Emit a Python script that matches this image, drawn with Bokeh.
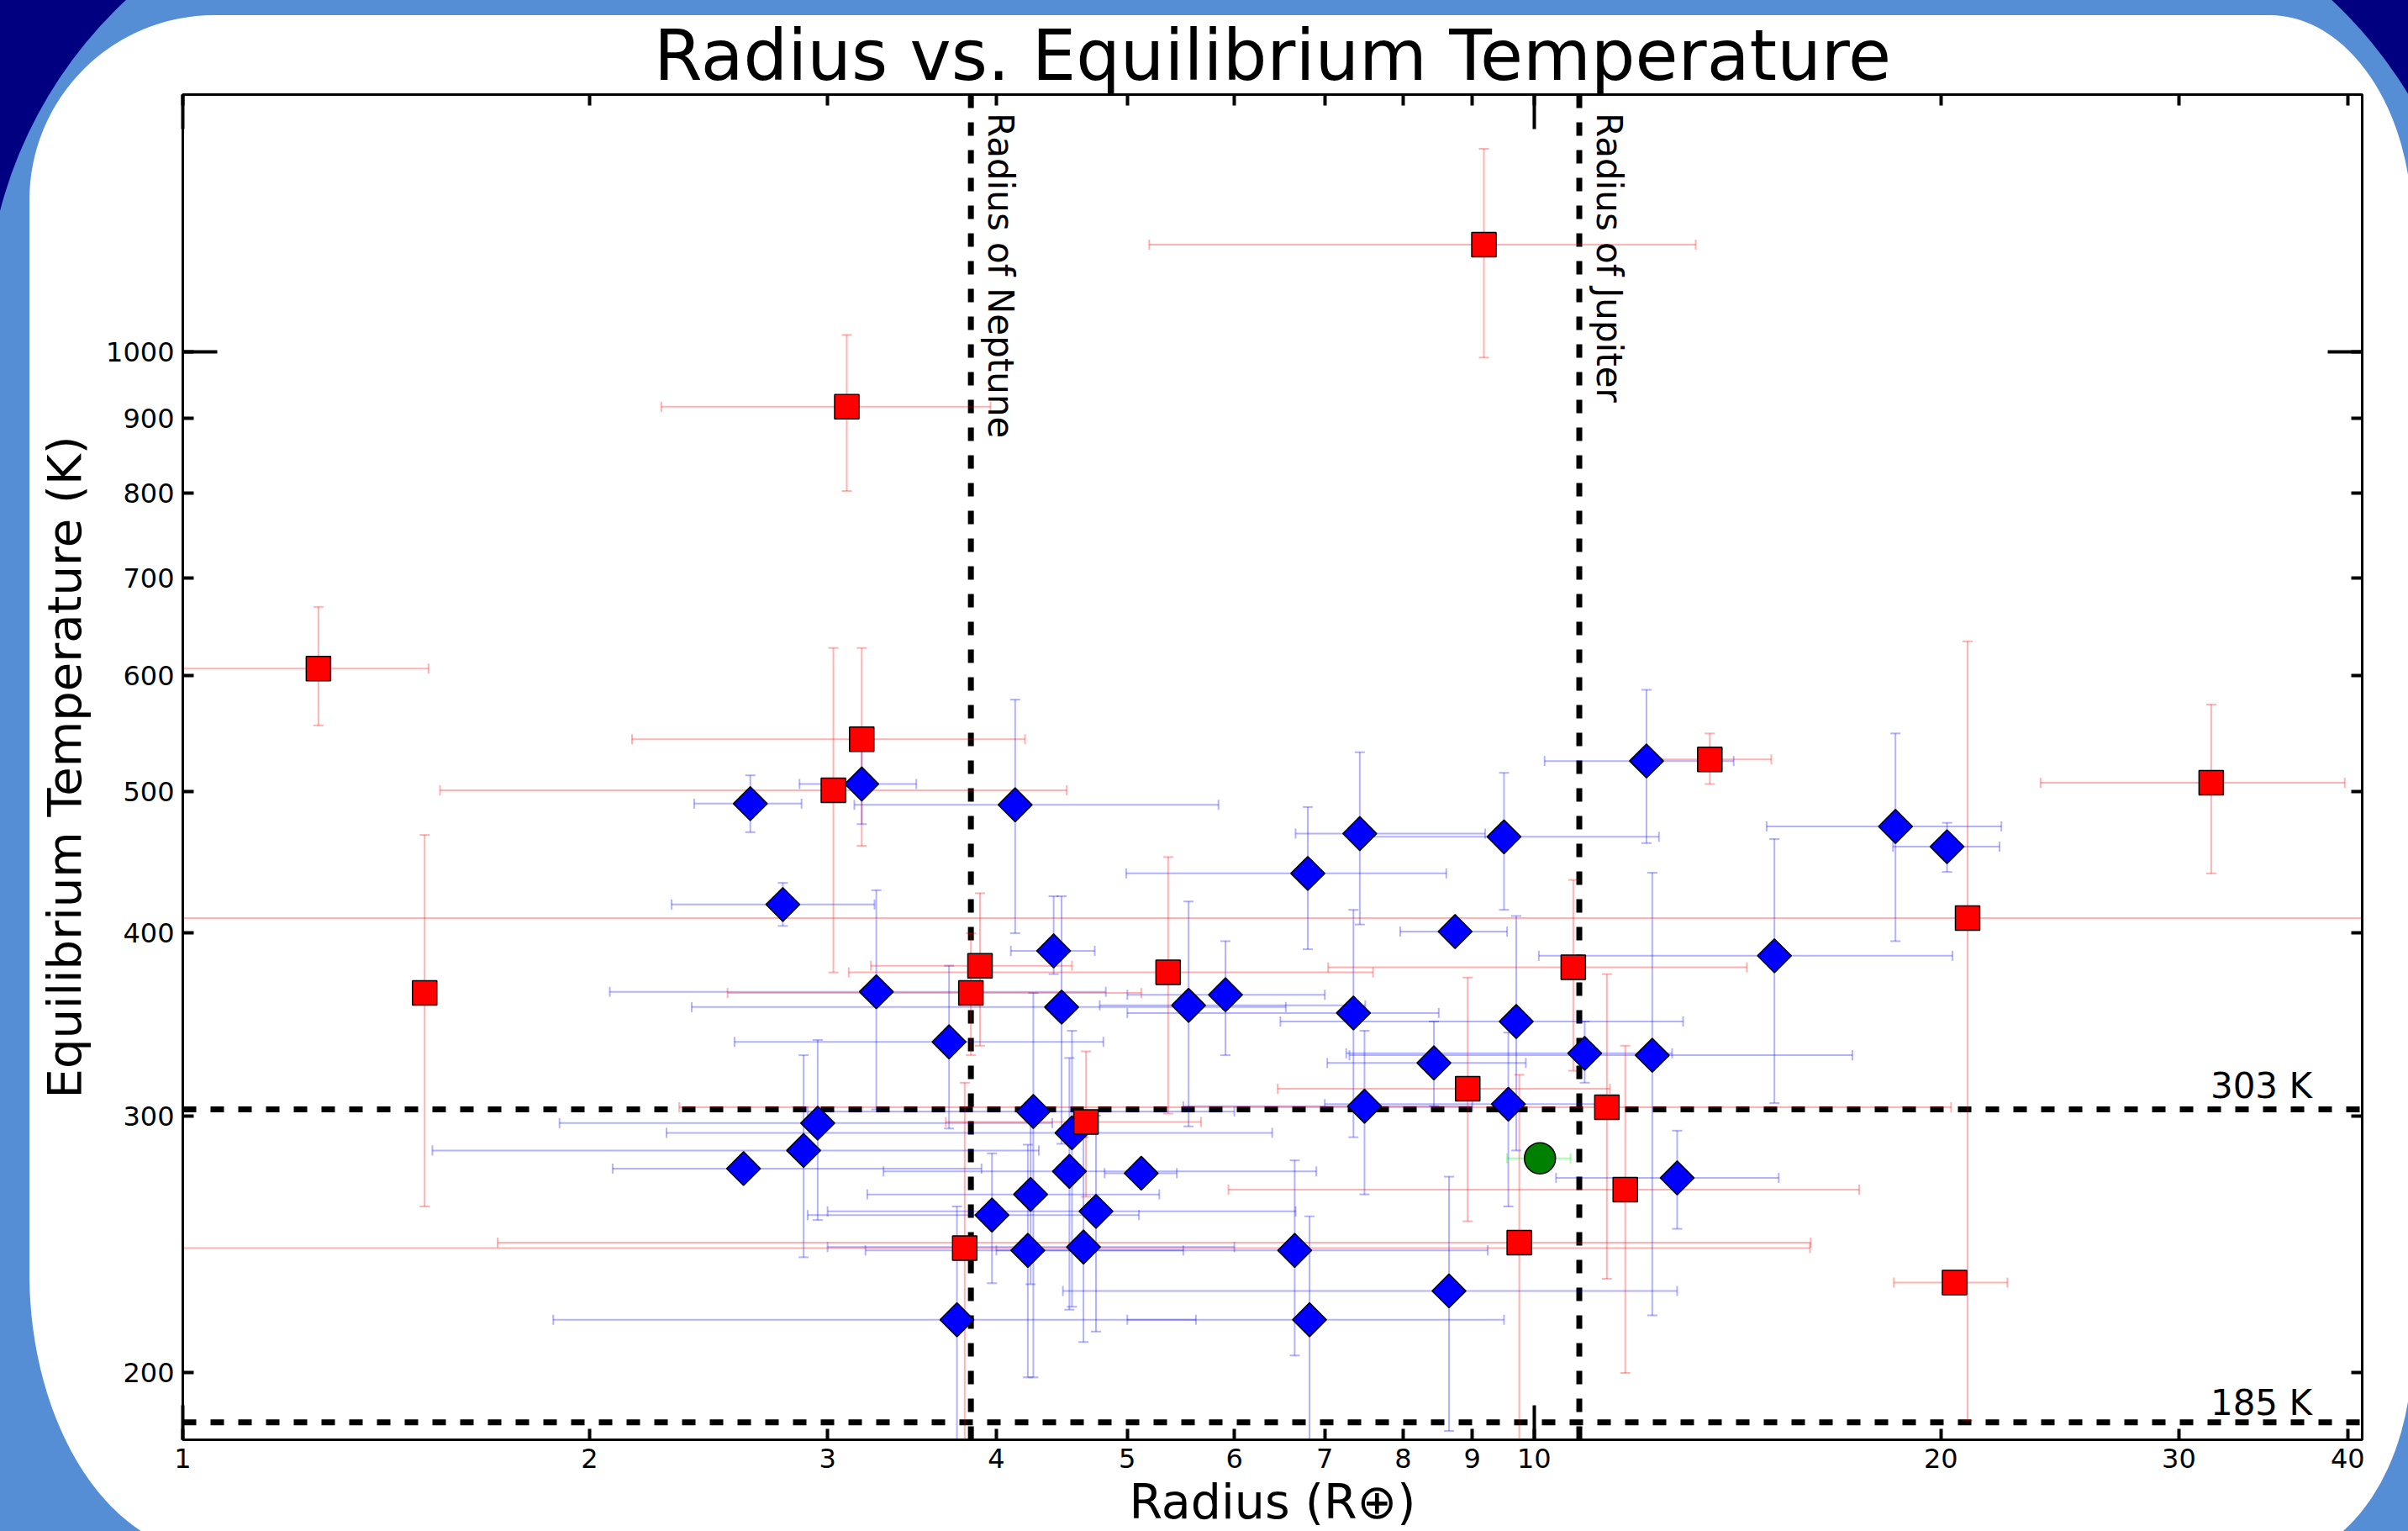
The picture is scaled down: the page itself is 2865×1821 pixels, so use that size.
import numpy as np
from urllib.parse import quote
from bokeh.plotting import figure
from bokeh.models import (FixedTicker, BasicTickFormatter, CustomJSTickFormatter, LogAxis,
                          Span, Label, ColumnDataSource, InlineStyleSheet)
from bokeh.embed import file_html
from bokeh.resources import INLINE

NaN = float("nan")

# ---------------- data (radius in Earth radii, temperature in K) ----------------
red_r   = [1.26, 3.10, 9.18, 1.51, 3.18, 3.03, 3.89, 3.83, 5.36, 4.66, 3.79, 8.93, 9.75, 10.69, 11.32, 11.68, 13.49, 20.47, 20.93, 31.7]
red_t   = [607, 917, 1184, 364, 543, 501, 380, 364, 376, 297, 243.5, 313, 245.6, 379, 304, 267, 526, 230.6, 409.6, 507]
red_rlo = [0.9, 2.26, 5.19, NaN, 2.15, 1.55, 3.23, 2.53, 3.11, 3.67, 0.9, 6.46, 1.71, 7.04, 2.33, 5.94, 12.33, 18.46, 0.9, 23.7]
red_rhi = [1.52, 3.96, 13.17, NaN, 4.20, 4.51, 4.55, 5.12, 7.6, 5.67, 16.0, 11.38, 16.02, 14.37, 20.35, 17.4, 14.98, 22.4, 45.0, 39.8]
red_tlo = [555, 803, 991, 260, 459, 376, 335, 330, 301, 264, 170, 254, 170, 322, 232, 200, 506, NaN, 185.6, 439.5]
red_thi = [669, 1027, 1377, 467, 627, 627, 426, 400, 451, 332, 316, 373, 320, 435, 375, 335, 548, NaN, 633.6, 573.6]

blue_r   = [2.63, 2.78, 3.18, 4.13, 3.26, 3.69, 4.41, 4.47, 4.26, 4.55, 2.95, 2.88, 2.60, 4.53, 4.24, 3.97, 4.74, 5.12, 4.22, 4.64, 3.74,
            5.55, 5.91, 6.80, 7.43, 7.35, 7.49, 6.65, 6.82, 8.43, 8.74, 9.50, 9.70, 9.57, 8.65, 10.90, 12.11, 12.23, 12.76, 15.06, 18.51, 20.21]
blue_t   = [490.6, 418.5, 506, 489.7, 364.7, 337, 389, 356, 302, 292, 296.5, 284, 276, 274.8, 265, 256.5, 258, 274, 242.6, 243.9, 217.5,
            357, 363, 439.5, 468, 352.7, 304.5, 242.6, 217.5, 326, 401, 465.6, 348, 305.5, 227.6, 331, 524.7, 330, 272, 386, 473.3, 458.4]
blue_rlo = [2.39, 2.30, 2.86, 3.14, 2.07, 2.56, 4.10, 2.38, 2.9, 2.28, 1.90, 1.53, 2.08, 3.3, 3.21, 2.9, 3.0, 4.81, 3.2, 3.0, 1.88,
            4.77, 5.0, 4.99, 6.66, 5.0, 5.5, 4.0, 5.0, 7.03, 7.96, 7.44, 6.49, 7.0, 4.48, 7.26, 10.18, 7.3, 10.38, 10.08, 14.86, 18.43]
blue_rhi = [2.87, 3.25, 3.49, 5.84, 4.82, 4.80, 4.73, 6.55, 6.0, 6.4, 4.4, 4.3, 3.9, 6.9, 5.28, 5.1, 6.66, 5.44, 5.5, 6.0, 5.62,
            7.5, 7.0, 8.61, 9.2, 8.5, 9.0, 9.24, 9.50, 9.86, 9.55, 12.37, 12.89, 11.5, 12.76, 12.65, 14.05, 17.2, 15.17, 20.4, 22.17, 22.1]
blue_tlo = [469, 404.6, 475, 400, 303, 294, 375, 287, 198.6, 222, 254.5, 240, NaN, 221, 230, 230.4, 213.5, NaN, 198.6, 210, 170,
            295, 330, 390, 405.5, 290, 265, 205.6, 170, 304.6, NaN, 415, 284, 260, 182.5, 316, 461, 219, 251, 306, 395, 440.5]
blue_thi = [513, 433, 540, 578, 428, 380, 424, 424, 364, 343, 338, 330, NaN, 328.6, 300, 282.7, 300, NaN, 286.6, 290, 260,
            420.5, 395, 488, 532, 415, 343, 279.6, 256, 348, NaN, 515, 411, 342, 272.5, 348, 587, 440, 293, 464, 548, 476]

green_r, green_t = [10.10], [280.5]
green_rlo, green_rhi = [9.55], [10.64]
green_tlo, green_thi = [NaN], [NaN]

neptune_radius, jupiter_radius = 3.83, 10.8
habitable_temps = [303, 185]

x_ticks = [1, 2, 3, 4, 5, 6, 7, 8, 9, 10, 20, 30, 40]
y_ticks = [200, 300, 400, 500, 600, 700, 800, 900, 1000]
x_decades = [1, 10]
y_decades = [1000]

FONT = "DejaVu Sans"
BLUE_BG = "#558ED5"
NAVY = "#000080"

W, H = 2865, 1821
FL, FT, FR, FB = 217, 112, 2810, 1713   # frame edges on the canvas

# slide background (navy corners, blue band, white rounded panel) as a CSS backdrop
bg_svg = (
    f"<svg xmlns='http://www.w3.org/2000/svg' width='{W}' height='{H}' viewBox='0 0 {W} {H}'>"
    f"<rect width='{W}' height='{H}' fill='{NAVY}'/>"
    f"<rect x='-17' y='-140' width='2958' height='3000' rx='523' ry='523' fill='{BLUE_BG}'/>"
    "<path d='M255,18 H2700 A170,250 0 0 1 2870,268 V1607 A170,250 0 0 1 2700,1857 "
    "L255,1848.5 A220,334 0 0 1 35,1514.5 V238 A220,220 0 0 1 255,18 Z' fill='white'/>"
    "</svg>"
)
bg_url = 'url("data:image/svg+xml;charset=utf-8,' + quote(bg_svg) + '")'
bg_css = {"background-image": bg_url, "background-repeat": "no-repeat",
          "background-size": f"{W}px {H}px", "background-color": BLUE_BG}

p = figure(width=W, height=H, x_axis_type="log", y_axis_type="log",
           x_range=(1, 41), y_range=(180, 1500),
           output_backend="svg", toolbar_location=None,
           min_border_left=FL, min_border_right=W - FR, min_border_top=FT, min_border_bottom=H - FB,
           title="Radius vs. Equilibrium Temperature")
p.styles = bg_css
p.stylesheets = [InlineStyleSheet(css=":host { " + "; ".join(f"{k}: {v}" for k, v in bg_css.items()) + "; }")]
p.border_fill_color = None
p.background_fill_color = "white"
p.outline_line_color = "black"
p.outline_line_width = 3
p.grid.visible = False

p.title.text_font = FONT
p.title.text_font_size = "83px"
p.title.text_font_style = "normal"
p.title.text_color = "black"
p.title.align = "center"
p.title.standoff = -5

# ---------------- axes ----------------
xt = FixedTicker(ticks=x_ticks, minor_ticks=x_decades)
yt = FixedTicker(ticks=y_ticks, minor_ticks=y_decades)

def style_axis(ax, show_labels):
    ax.axis_line_color = None
    ax.major_tick_in = 13
    ax.major_tick_out = 0
    ax.minor_tick_in = 41
    ax.minor_tick_out = 0
    ax.major_tick_line_width = 4
    ax.minor_tick_line_width = 4
    ax.major_tick_line_color = "black"
    ax.minor_tick_line_color = "black"
    ax.major_label_text_font = FONT
    ax.major_label_text_color = "black"
    if show_labels:
        ax.major_label_text_font_size = "32px"
        ax.major_label_standoff = 10
        ax.formatter = BasicTickFormatter()
    else:
        ax.major_label_text_font_size = "0px"
        ax.major_label_standoff = 0
        ax.formatter = CustomJSTickFormatter(code="return ''")

p.xaxis.ticker = xt
p.yaxis.ticker = yt
style_axis(p.xaxis[0], True)
style_axis(p.yaxis[0], True)
for ax in (p.xaxis[0], p.yaxis[0]):
    ax.axis_label_text_font = FONT
    ax.axis_label_text_font_style = "normal"
    ax.axis_label_text_color = "black"
p.xaxis.axis_label = "Radius (R⊕)"
p.xaxis.axis_label_text_font_size = "57px"
p.xaxis.axis_label_standoff = 4
p.yaxis.axis_label = "Equilibrium Temperature (K)"
p.yaxis.axis_label_text_font_size = "56px"
p.yaxis.axis_label_standoff = 14

top_ax = LogAxis(ticker=xt)
style_axis(top_ax, False)
p.add_layout(top_ax, "above")
right_ax = LogAxis(ticker=yt)
style_axis(right_ax, False)
p.add_layout(right_ax, "right")

# ---------------- reference lines ----------------
for loc in (neptune_radius, jupiter_radius):
    p.add_layout(Span(location=loc, dimension="height", line_color="black",
                      line_width=7, line_dash="16 17", level="underlay"))
for loc in habitable_temps:
    p.add_layout(Span(location=loc, dimension="width", line_color="black",
                      line_width=7, line_dash="16 17", level="underlay"))

# ---------------- error bars ----------------
def errorbars(r, t, rlo, rhi, tlo, thi, color, alpha):
    src = ColumnDataSource(dict(r=r, t=t, rlo=rlo, rhi=rhi, tlo=tlo, thi=thi))
    kw = dict(source=src, line_color=color, line_alpha=alpha, line_width=2)
    p.segment(x0="rlo", y0="t", x1="rhi", y1="t", **kw)
    p.segment(x0="r", y0="tlo", x1="r", y1="thi", **kw)
    for xc, yc, ang in (("rlo", "t", np.pi / 2), ("rhi", "t", np.pi / 2), ("r", "tlo", 0), ("r", "thi", 0)):
        p.scatter(x=xc, y=yc, marker="dash", size=12, angle=ang, **kw)
    return src

bsrc = errorbars(blue_r, blue_t, blue_rlo, blue_rhi, blue_tlo, blue_thi, "blue", 0.3)
rsrc = errorbars(red_r, red_t, red_rlo, red_rhi, red_tlo, red_thi, "red", 0.3)
gsrc = errorbars(green_r, green_t, green_rlo, green_rhi, green_tlo, green_thi, "lime", 0.35)

# ---------------- markers ----------------
p.scatter(x="r", y="t", source=bsrc, marker="square", angle=np.pi / 4, size=28.5,
          fill_color="#0000FF", line_color="black", line_width=1.5)
p.scatter(x="r", y="t", source=rsrc, marker="square", size=29,
          fill_color="#FF0000", line_color="black", line_width=1.5)
p.scatter(x="r", y="t", source=gsrc, marker="circle", size=37,
          fill_color="#008000", line_color="black", line_width=1.5)

# ---------------- text labels ----------------
for loc, txt in ((neptune_radius, "Radius of Neptune"), (jupiter_radius, "Radius of Jupiter")):
    p.add_layout(Label(x=loc, y=1458, text=txt, angle=-np.pi / 2, x_offset=35,
                       text_font=FONT, text_font_size="42px", text_color="black",
                       text_align="left", text_baseline="middle"))
for loc, ty in ((303, 314.5), (185, 190.8)):
    p.add_layout(Label(x=37.65, y=ty, text=f"{loc} K", text_font=FONT, text_font_size="42px",
                       text_color="black", text_align="right", text_baseline="middle"))

open("out.html", "w").write(file_html(p, INLINE))
